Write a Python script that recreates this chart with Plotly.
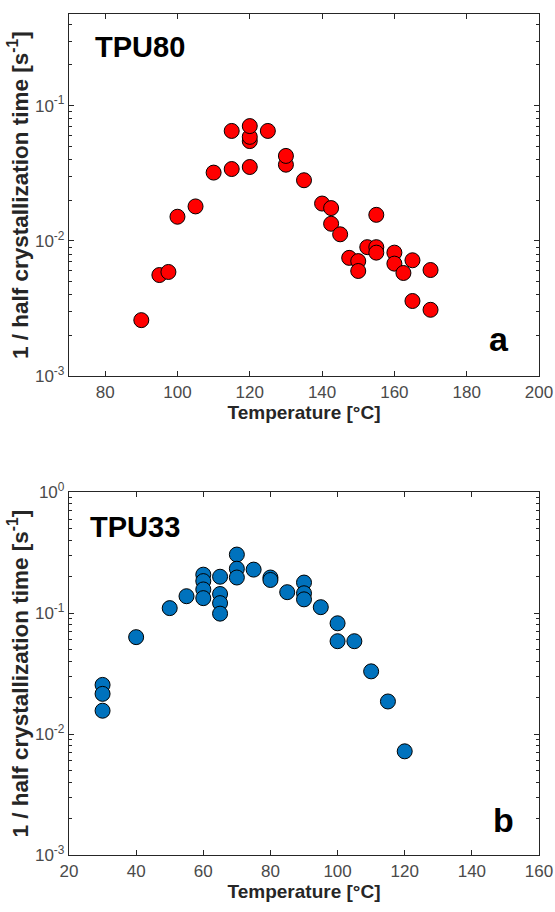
import plotly.graph_objects as go

# ---- Data: TPU80 (panel a) ----
t80 = [90, 95, 97.5, 100, 105, 110, 115, 115, 120, 120, 120, 120, 125, 130, 130, 135,
       140, 142.5, 142.5, 145, 147.5, 150, 150, 152.5, 155, 155, 155, 160, 160, 162.5,
       165, 165, 170, 170]
r80 = [0.0026, 0.0056, 0.0059, 0.0151, 0.018, 0.032, 0.034, 0.065, 0.0352, 0.0547, 0.0588, 0.0706, 0.065, 0.0366, 0.0425, 0.0281,
       0.0189, 0.0175, 0.0134, 0.0112, 0.0075, 0.0071, 0.0060, 0.0090, 0.0156, 0.0090, 0.0082, 0.0082, 0.0068, 0.0058,
       0.0072, 0.0036, 0.0061, 0.0031]

# ---- Data: TPU33 (panel b) ----
t33 = [30, 30, 30, 40, 50, 55, 60, 60, 60, 60, 65, 65, 65, 65, 70, 70, 70, 75, 80, 80,
       85, 90, 90, 90, 95, 100, 100, 105, 110, 115, 120]
r33 = [0.0255, 0.0215, 0.0156, 0.0633, 0.110, 0.138, 0.208, 0.184, 0.157, 0.133, 0.200, 0.144, 0.121, 0.099, 0.305, 0.233, 0.197, 0.229, 0.197, 0.188,
       0.149, 0.179, 0.146, 0.130, 0.112, 0.0824, 0.0586, 0.0586, 0.033, 0.0186, 0.0072]

xticks_a = [80, 100, 120, 140, 160, 180, 200]
xticks_b = [20, 40, 60, 80, 100, 120, 140, 160]
yticks_a = [1e-3, 1e-2, 1e-1]
yticks_b = [1e-3, 1e-2, 1e-1, 1]
ytext_a = ["10<sup>-3</sup>", "10<sup>-2</sup>", "10<sup>-1</sup>"]
ytext_b = ["10<sup>-3</sup>", "10<sup>-2</sup>", "10<sup>-1</sup>", "10<sup>0</sup>"]

AX = "#262626"
FONT = "Liberation Sans, Arial, sans-serif"

fig = go.Figure()
fig.add_trace(go.Scatter(x=t80, y=r80, mode="markers", xaxis="x", yaxis="y",
                         marker=dict(size=15, color="#ff0000", line=dict(color="#000000", width=1)),
                         showlegend=False))
fig.add_trace(go.Scatter(x=t33, y=r33, mode="markers", xaxis="x2", yaxis="y2",
                         marker=dict(size=15, color="#0072BD", line=dict(color="#000000", width=1)),
                         showlegend=False))

def minor_vals(lo, hi):
    vals = []
    d = lo
    while d < hi:
        for k in range(2, 10):
            vals.append(k * 10 ** d)
        d += 1
    return vals

xcommon = dict(showline=True, linecolor=AX, linewidth=1.3, mirror="ticks", ticks="inside",
               ticklen=5, tickwidth=1, tickcolor=AX, showgrid=False, zeroline=False,
               tickfont=dict(family=FONT, size=17, color="#4a4a4a"),
               title_font=dict(family=FONT, size=19, color=AX))
ycommon = dict(type="log", showline=True, linecolor=AX, linewidth=1.3, mirror="ticks", ticks="inside",
               ticklen=5, tickwidth=1, tickcolor=AX, showgrid=False, zeroline=False,
               tickfont=dict(family=FONT, size=17, color="#4a4a4a"),
               title_font=dict(family=FONT, size=22.5, color=AX))

fig.update_layout(
    width=555, height=912,
    margin=dict(l=69, r=15, t=2, b=57),
    paper_bgcolor="white", plot_bgcolor="white",
    xaxis=dict(domain=[0, 1], anchor="y", range=[70, 200], tickvals=xticks_a,
               title=dict(text="<b>Temperature [°C]</b>", standoff=4), **xcommon),
    yaxis=dict(domain=[0.5692, 1.0], anchor="x", range=[-3, -0.323], tickvals=yticks_a, ticktext=ytext_a,
               minor=dict(tickvals=minor_vals(-3, -1) + [0.2, 0.3, 0.4], ticks="inside", ticklen=3, tickcolor=AX),
               title=dict(text="<b>1 / half crystallization time [s<sup>-1</sup>]</b>", standoff=0), **ycommon),
    xaxis2=dict(domain=[0, 1], anchor="y2", range=[20, 160], tickvals=xticks_b,
                title=dict(text="<b>Temperature [°C]</b>", standoff=4), **xcommon),
    yaxis2=dict(domain=[0, 0.4314], anchor="x2", range=[-3, 0], tickvals=yticks_b, ticktext=ytext_b,
                minor=dict(tickvals=minor_vals(-3, 0), ticks="inside", ticklen=3, tickcolor=AX),
                title=dict(text="<b>1 / half crystallization time [s<sup>-1</sup>]</b>", standoff=0), **ycommon),
)

fig.add_annotation(text="<b>TPU80</b>", xref="paper", yref="paper", x=(93 - 69) / 471, y=(855 - 35) / 853,
                   xanchor="left", yanchor="middle", showarrow=False,
                   font=dict(family=FONT, size=29, color="#000000"))
fig.add_annotation(text="<b>TPU33</b>", xref="paper", yref="paper", x=(88 - 69) / 471, y=(855 - 522) / 853,
                   xanchor="left", yanchor="middle", showarrow=False,
                   font=dict(family=FONT, size=29, color="#000000"))
fig.add_annotation(text="<b>a</b>", xref="paper", yref="paper", x=(512 - 69) / 471, y=(855 - 353) / 853,
                   xanchor="right", yanchor="bottom", showarrow=False,
                   font=dict(family=FONT, size=34, color="#000000"))
fig.add_annotation(text="<b>b</b>", xref="paper", yref="paper", x=(517 - 69) / 471, y=(855 - 841) / 853,
                   xanchor="right", yanchor="bottom", showarrow=False,
                   font=dict(family=FONT, size=34, color="#000000"))

fig.write_html("out.html")
